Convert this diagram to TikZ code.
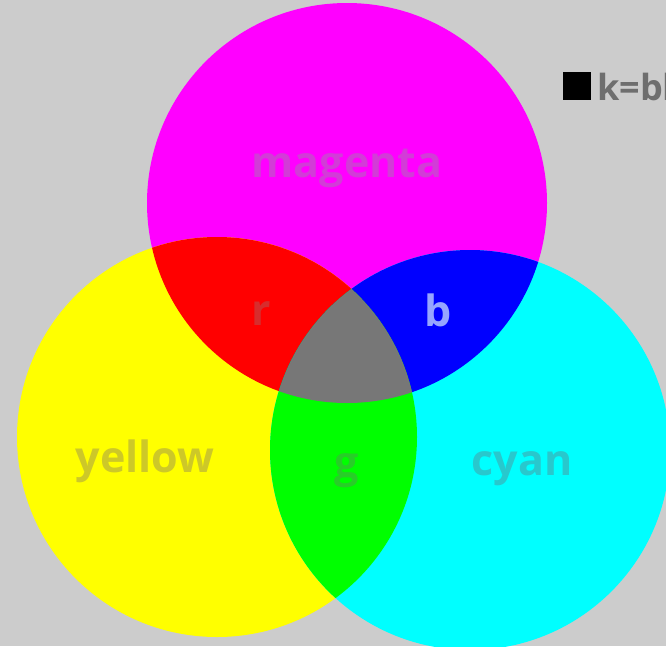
\documentclass[tikz,border=0pt]{standalone}
\usepackage{fontspec}
\setmainfont{Open Sans}
\definecolor{bg}{RGB}{204,204,204}
\definecolor{cM}{RGB}{255,0,255}
\definecolor{cY}{RGB}{255,255,0}
\definecolor{cC}{RGB}{0,255,255}
\definecolor{cR}{RGB}{255,0,0}
\definecolor{cB}{RGB}{0,0,255}
\definecolor{cG}{RGB}{0,255,0}
\definecolor{cK}{RGB}{119,119,119}
\definecolor{tM}{RGB}{210,60,215}
\definecolor{tR}{RGB}{215,45,45}
\definecolor{tB}{RGB}{150,165,255}
\definecolor{tY}{RGB}{205,200,40}
\definecolor{tG}{RGB}{40,205,40}
\definecolor{tC}{RGB}{40,200,205}
\definecolor{tK}{RGB}{110,110,110}
\tikzset{lbl/.style={inner sep=0pt,font=\fontsize{43}{43}\selectfont\bfseries}}
\begin{document}
\begin{tikzpicture}[x=1pt,y=-1pt]
\fill[bg] (0,0) rectangle (666,646);
\useasboundingbox (0,0) rectangle (666,646);
\coordinate (m) at (347,203);
\coordinate (y) at (217,437);
\coordinate (c) at (470,450);
\def\rr{200}
\fill[cM] (m) circle (\rr);
\fill[cY] (y) circle (\rr);
\fill[cC] (c) circle (\rr);
\begin{scope}\clip (m) circle (\rr); \fill[cR] (y) circle (\rr); \end{scope}
\begin{scope}\clip (m) circle (\rr); \fill[cB] (c) circle (\rr); \end{scope}
\begin{scope}\clip (y) circle (\rr); \fill[cG] (c) circle (\rr); \end{scope}
\begin{scope}\clip (m) circle (\rr); \clip (y) circle (\rr); \fill[cK] (c) circle (\rr); \end{scope}
\node[lbl,text=tM,anchor=base] (lm) at (347,177) {magenta};
\node[lbl,text=tR,anchor=base] (lr) at (261,325) {r};
\node[lbl,text=tB,anchor=base] (lb) at (438,326) {b};
\node[lbl,text=tY,anchor=base] (ly) at (145,472) {yellow};
\node[lbl,text=tG,anchor=base] (lg) at (347,477) {g};
\node[lbl,text=tC,anchor=base] (lc) at (522,475) {cyan};
\fill[black] (563,72) rectangle (591,100);
\node[inner sep=0pt,anchor=base west,text=tK,font=\fontsize{36}{36}\selectfont\bfseries] (lk) at (597,100) {k=black};
\end{tikzpicture}
\end{document}
